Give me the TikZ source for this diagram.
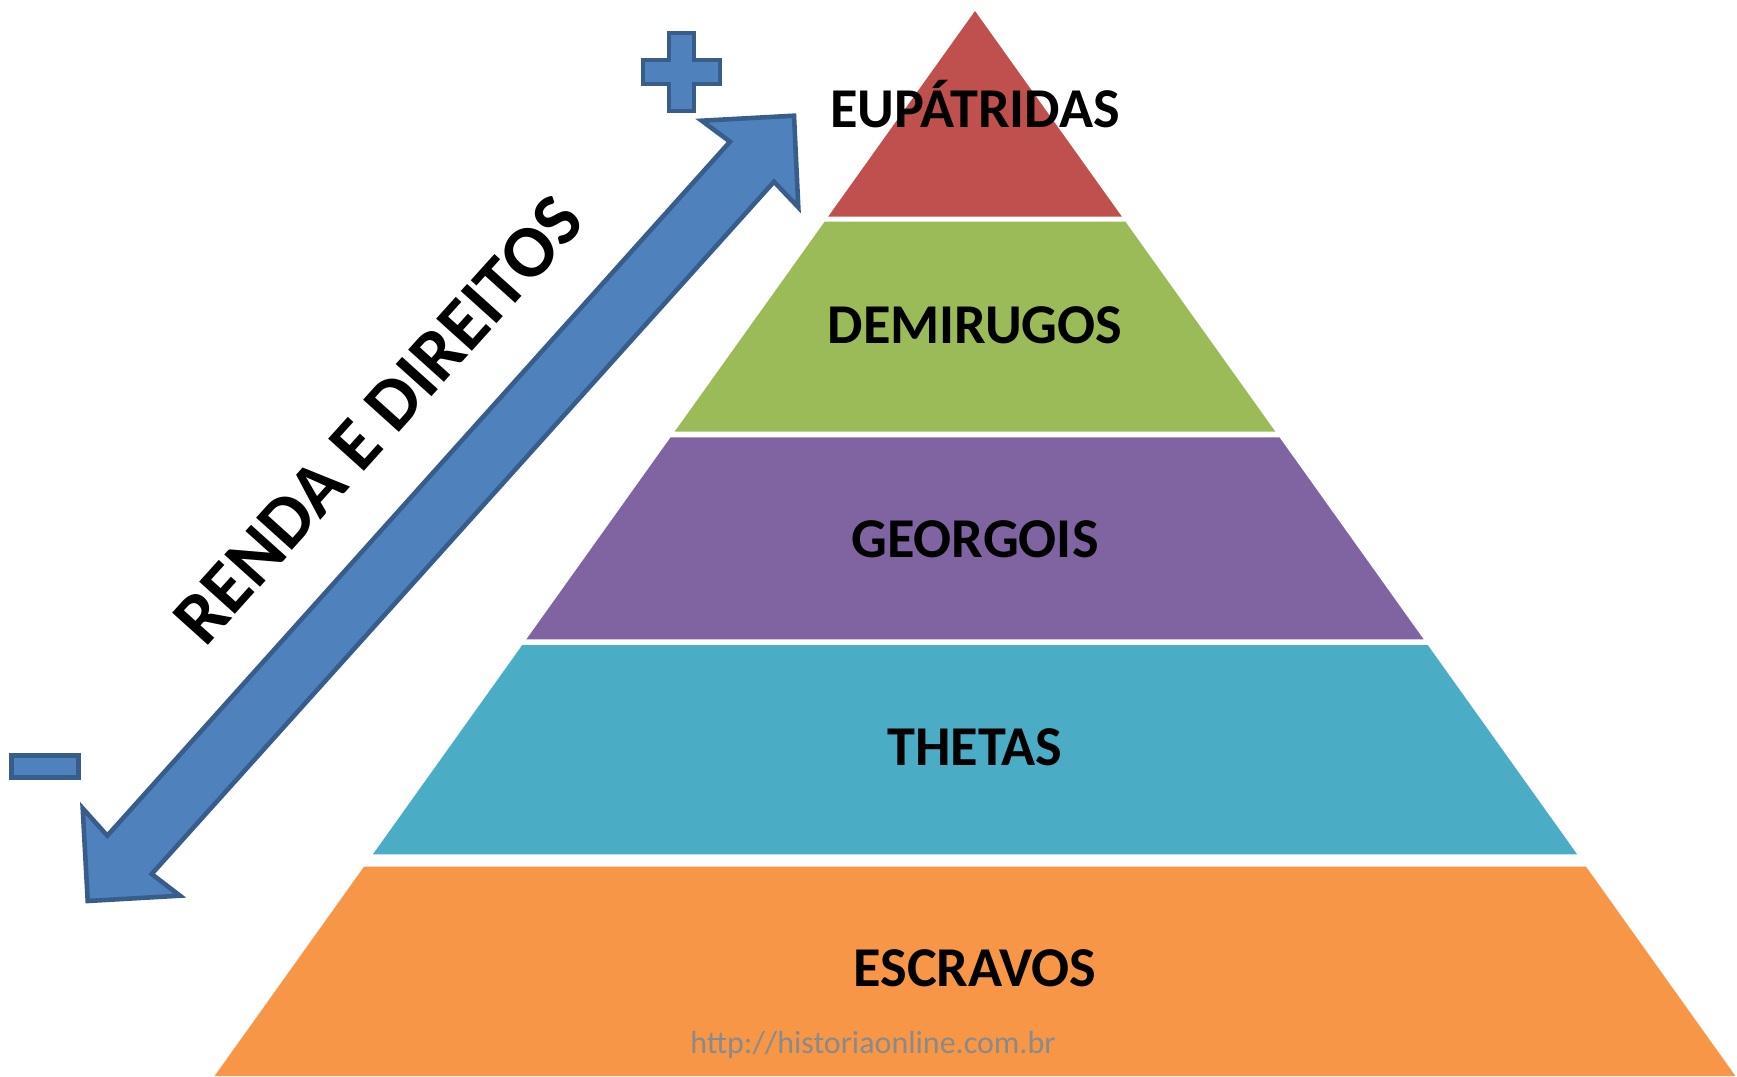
\documentclass[tikz,border=0pt]{standalone}
\usepackage{fontspec}
\setmainfont{Carlito}
\definecolor{pyrred}{HTML}{C0504D}
\definecolor{pyrgreen}{HTML}{9BBB59}
\definecolor{pyrpurple}{HTML}{8064A2}
\definecolor{pyrteal}{HTML}{4BACC6}
\definecolor{pyrorange}{HTML}{F79646}
\definecolor{arrfill}{HTML}{4F81BD}
\definecolor{arrline}{HTML}{385D8A}
\definecolor{wmgray}{RGB}{138,138,138}
\tikzset{
  band/.style={draw=none},
  bluesym/.style={fill=arrfill,draw=arrline,line width=1.3pt,line join=miter},
  lvl/.style={font=\bfseries\fontsize{16pt}{19pt}\selectfont,text=black,inner sep=0pt,anchor=base},
  axislabel/.style={font=\bfseries\fontsize{21.1pt}{25pt}\selectfont,text=black,inner sep=0pt,anchor=base,rotate=48},
  watermark/.style={font=\fontsize{9.1pt}{11pt}\selectfont,text=wmgray,inner sep=0pt,anchor=base}
}
\begin{document}
\begin{tikzpicture}[x=0.01cm,y=-0.01cm]
\useasboundingbox (0,0) rectangle (1737,1076);
\fill[white] (0,0) rectangle (1737,1076);
% pyramid bands
\fill[pyrred] (975,11) -- (1121.9,216.7) -- (828.1,216.7) -- cycle;
\fill[pyrgreen] (824.6,221.7) -- (1125.4,221.7) -- (1275.4,431.7) -- (674.6,431.7) -- cycle;
\fill[pyrpurple] (670.6,437.3) -- (1279.4,437.3) -- (1423.6,639.3) -- (526.4,639.3) -- cycle;
\fill[pyrteal] (522.3,645) -- (1427.7,645) -- (1577.1,854.3) -- (372.9,854.3) -- cycle;
\fill[pyrorange] (364,866.7) -- (1586,866.7) -- (1735.4,1076) -- (214.6,1076) -- cycle;
% labels
\node[lvl] (eup) at (975,128) {EUPÁTRIDAS};
\node[lvl] (dem) at (975,343.5) {DEMIRUGOS};
\node[lvl] (geo) at (975,557) {GEORGOIS};
\node[lvl] (the) at (975,765.5) {THETAS};
\node[lvl] (esc) at (975,986.5) {ESCRAVOS};
\node[watermark] (wm) at (873,1053.3) {http://historiaonline.com.br};
% double arrow
\draw[bluesym] (794,115.7) -- (798.3,207.3) -- (774,181.7) -- (151.7,874) -- (180,895.7)
  -- (87.7,901) -- (82.7,808.3) -- (107.3,835.7) -- (730,141.7) -- (701.7,120.7) -- cycle;
% plus and minus
\draw[bluesym] (669.2,33.2) -- (694.2,33.2) -- (694.2,59.8) -- (720.2,59.8) -- (720.2,84.2)
  -- (694.2,84.2) -- (694.2,110.8) -- (669.2,110.8) -- (669.2,84.2) -- (643.2,84.2)
  -- (643.2,59.8) -- (669.2,59.8) -- cycle;
\draw[bluesym] (11.6,755.6) rectangle (78.4,777.7);
% axis label
\node[axislabel] (renda) at (396,436) {RENDA E DIREITOS};
\end{tikzpicture}
\end{document}
